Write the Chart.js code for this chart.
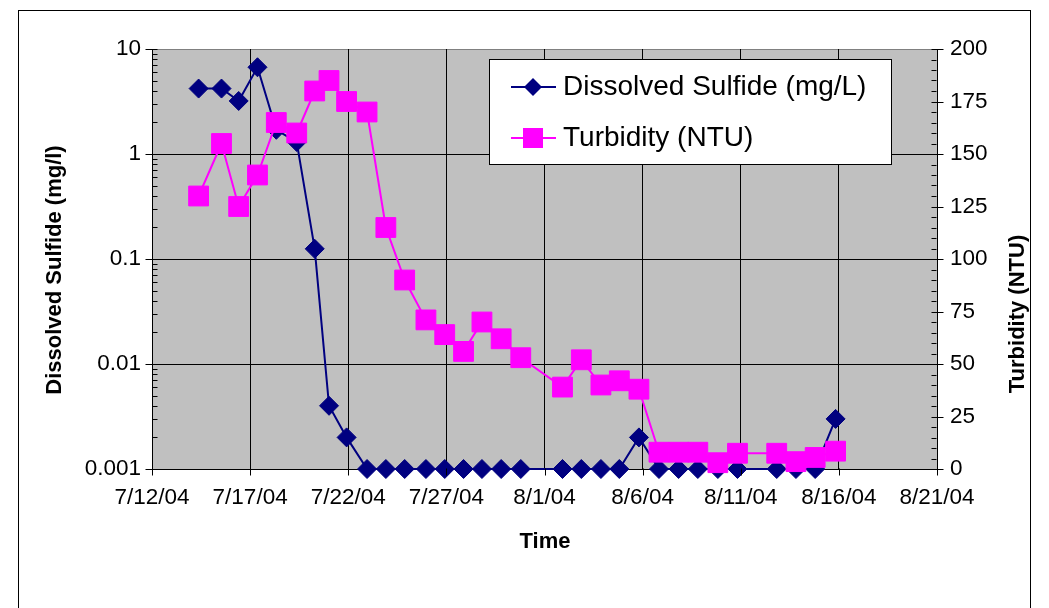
<!DOCTYPE html>
<html>
<head>
<meta charset="utf-8">
<title>Dissolved Sulfide and Turbidity</title>
<script src="https://cdn.jsdelivr.net/npm/chart.js@4.4.1/dist/chart.umd.min.js"></script>
<style>
  html, body { margin: 0; padding: 0; background: #ffffff; }
  #wrap { width: 1049px; height: 608px; position: relative; }
</style>
</head>
<body>
<div id="wrap"><canvas id="chart"></canvas></div>
<script>
// Sampling times (local date + time of each grab sample)
const sampleTimes = [
  '2004-07-14 09:00', '2004-07-15 13:00', '2004-07-16 10:00', '2004-07-17 09:00',
  '2004-07-18 08:00', '2004-07-19 09:00', '2004-07-20 07:00', '2004-07-21 00:30',
  '2004-07-21 22:00', '2004-07-22 23:00', '2004-07-23 22:00', '2004-07-24 21:00',
  '2004-07-25 23:00', '2004-07-26 22:00', '2004-07-27 21:00', '2004-07-28 19:30',
  '2004-07-29 19:00', '2004-07-30 19:00', '2004-08-01 22:00', '2004-08-02 21:00',
  '2004-08-03 21:00', '2004-08-04 19:30', '2004-08-05 19:30', '2004-08-06 20:00',
  '2004-08-07 20:00', '2004-08-08 19:30', '2004-08-09 20:00', '2004-08-10 20:00',
  '2004-08-12 20:00', '2004-08-13 19:30', '2004-08-14 19:00', '2004-08-15 20:00'
];

// Dissolved sulfide, mg/L (0.001 = detection limit)
const sulfideMgL = [
  4.2, 4.2, 3.2, 6.7, 1.7, 1.3, 0.125, 0.004,
  0.002, 0.001, 0.001, 0.001, 0.001, 0.001, 0.001, 0.001,
  0.001, 0.001, 0.001, 0.001, 0.001, 0.001, 0.002, 0.001,
  0.001, 0.001, 0.001, 0.001, 0.001, 0.001, 0.001, 0.003
];

// Turbidity, NTU
const turbidityNTU = [
  130, 155, 125, 140, 165, 160, 180, 185,
  175, 170, 115, 90, 71, 64, 56, 70,
  62, 53, 39, 52, 40, 42, 38, 8,
  8, 8, 3, 7.5, 7.5, 3.5, 5.5, 8.5
];

// Axis tick labels
const timeTickLabels = ['7/12/04', '7/17/04', '7/22/04', '7/27/04', '8/1/04', '8/6/04', '8/11/04', '8/16/04', '8/21/04'];
const sulfideTickLabels = ['0.001', '0.01', '0.1', '1', '10'];
const turbidityTickLabels = ['0', '25', '50', '75', '100', '125', '150', '175', '200'];

const AXIS_ORIGIN = Date.UTC(2004, 6, 12);   // 7/12/04, left end of the time axis
const DAY_MS = 86400000;

function toDays(stamp) {
  const [d, t] = stamp.split(' ');
  const [Y, M, D] = d.split('-').map(Number);
  const [h, m] = t.split(':').map(Number);
  return (Date.UTC(Y, M - 1, D, h, m) - AXIS_ORIGIN) / DAY_MS;
}

const days = sampleTimes.map(toDays);
const sulfidePoints = days.map((x, i) => ({ x, y: sulfideMgL[i] }));
const turbidityPoints = days.map((x, i) => ({ x, y: turbidityNTU[i] }));

const FONT = "'Liberation Sans', Arial, Helvetica, sans-serif";
const NAVY = '#000080';
const MAGENTA = '#FF00FF';
const TICK_SIZE = 22.5;

function isDecade(v) {
  const l = Math.log10(v);
  return Math.abs(l - Math.round(l)) < 1e-9;
}

// Plot background, outer frame, tick marks, axis titles and the boxed legend
const decorations = {
  id: 'decorations',
  beforeDraw(chart) {
    const { ctx, chartArea: a } = chart;
    ctx.save();
    ctx.fillStyle = '#ffffff';
    ctx.fillRect(0, 0, chart.width, chart.height);
    ctx.strokeStyle = '#000000';
    ctx.lineWidth = 1;
    ctx.strokeRect(18.5, 10.5, 1012, 700);
    ctx.fillStyle = '#C0C0C0';
    ctx.fillRect(a.left, a.top, a.right - a.left, a.bottom - a.top);
    ctx.strokeStyle = '#808080';
    ctx.beginPath();
    ctx.moveTo(a.left, Math.round(a.top) + 0.5);
    ctx.lineTo(a.right, Math.round(a.top) + 0.5);
    ctx.stroke();
    ctx.restore();
  },
  afterDraw(chart) {
    const { ctx, chartArea: a, scales } = chart;
    const yL = scales.y, yR = scales.y1, xS = scales.x;
    ctx.save();
    ctx.strokeStyle = '#000000';
    ctx.lineWidth = 1;
    ctx.beginPath();
    const L = Math.round(a.left) + 0.5;
    const R = Math.round(a.right) - 0.5;
    const B = Math.round(a.bottom) - 0.5;
    // left (log) axis: majors cross the axis, minors point inward
    for (let e = -3; e <= 1; e++) {
      const py = Math.round(yL.getPixelForValue(Math.pow(10, e))) + 0.5;
      ctx.moveTo(L - 7, py); ctx.lineTo(L + 5, py);
      if (e < 1) {
        for (let m = 2; m <= 9; m++) {
          const pm = Math.round(yL.getPixelForValue(m * Math.pow(10, e))) + 0.5;
          ctx.moveTo(L, pm); ctx.lineTo(L + 5, pm);
        }
      }
    }
    // right (linear) axis
    for (let v = 0; v <= 200; v += 5) {
      const py = Math.round(yR.getPixelForValue(v)) + 0.5;
      if (v % 25 === 0) { ctx.moveTo(R - 5, py); ctx.lineTo(R + 7, py); }
      else { ctx.moveTo(R - 5, py); ctx.lineTo(R, py); }
    }
    // time axis
    for (let d = 0; d <= 40; d += 5) {
      const px = Math.round(xS.getPixelForValue(d)) + 0.5;
      ctx.moveTo(px, B); ctx.lineTo(px, B + 7);
    }
    ctx.stroke();

    // axis titles
    ctx.fillStyle = '#000000';
    ctx.font = 'bold 22px ' + FONT;
    ctx.textAlign = 'center';
    ctx.textBaseline = 'middle';
    ctx.fillText('Time', 545, 542);
    ctx.save();
    ctx.translate(55, 270);
    ctx.rotate(-Math.PI / 2);
    ctx.fillText('Dissolved Sulfide (mg/l)', 0, 0);
    ctx.restore();
    ctx.save();
    ctx.translate(1018, 314);
    ctx.rotate(-Math.PI / 2);
    ctx.fillText('Turbidity (NTU)', 0, 0);
    ctx.restore();

    // legend box
    ctx.fillStyle = '#ffffff';
    ctx.fillRect(489, 59, 402, 105);
    ctx.strokeStyle = '#000000';
    ctx.strokeRect(489.5, 59.5, 402, 105);
    const entries = [
      { label: chart.data.datasets[0].label, color: NAVY, style: 'diamond', y: 87 },
      { label: chart.data.datasets[1].label, color: MAGENTA, style: 'square', y: 138 }
    ];
    entries.forEach(en => {
      ctx.strokeStyle = en.color;
      ctx.lineWidth = 2;
      ctx.beginPath();
      ctx.moveTo(511, en.y); ctx.lineTo(556, en.y);
      ctx.stroke();
      ctx.fillStyle = en.color;
      ctx.beginPath();
      if (en.style === 'diamond') {
        ctx.moveTo(533, en.y - 9); ctx.lineTo(542, en.y); ctx.lineTo(533, en.y + 9); ctx.lineTo(524, en.y);
        ctx.closePath();
      } else {
        ctx.rect(523, en.y - 10, 20, 20);
      }
      ctx.fill();
      ctx.fillStyle = '#000000';
      ctx.font = '28px ' + FONT;
      ctx.textAlign = 'left';
      ctx.textBaseline = 'middle';
      ctx.fillText(en.label, 563, en.y);
    });
    ctx.restore();
  }
};

new Chart(document.getElementById('chart'), {
  type: 'line',
  data: {
    datasets: [
      {
        label: 'Dissolved Sulfide (mg/L)',
        data: sulfidePoints,
        yAxisID: 'y',
        order: 2,
        borderColor: NAVY,
        backgroundColor: NAVY,
        borderWidth: 2,
        pointStyle: 'rectRot',
        pointRadius: 9.5,
        pointBorderWidth: 1,
        pointBackgroundColor: NAVY,
        pointBorderColor: NAVY,
        tension: 0,
        clip: false
      },
      {
        label: 'Turbidity (NTU)',
        data: turbidityPoints,
        yAxisID: 'y1',
        order: 1,
        borderColor: MAGENTA,
        backgroundColor: MAGENTA,
        borderWidth: 2,
        pointStyle: 'rect',
        pointRadius: 14,
        pointBorderWidth: 1,
        pointBackgroundColor: MAGENTA,
        pointBorderColor: MAGENTA,
        tension: 0,
        clip: false
      }
    ]
  },
  options: {
    responsive: true,
    maintainAspectRatio: false,
    animation: false,
    events: [],
    layout: { padding: { top: 49, left: 0, right: 0, bottom: 0 } },
    plugins: {
      legend: { display: false },
      tooltip: { enabled: false },
      title: { display: false }
    },
    scales: {
      x: {
        type: 'linear',
        min: 0,
        max: 40,
        afterFit(scale) { scale.height = 139; },
        ticks: {
          stepSize: 5,
          autoSkip: false,
          maxRotation: 0,
          padding: 15,
          color: '#000000',
          font: { family: FONT, size: TICK_SIZE },
          callback: (v) => timeTickLabels[Math.round(v / 5)]
        },
        grid: { color: '#000000', lineWidth: 1, drawTicks: false },
        border: { color: '#000000', width: 1 }
      },
      y: {
        type: 'logarithmic',
        position: 'left',
        min: 0.001,
        max: 10,
        afterFit(scale) { scale.width = 152; },
        ticks: {
          autoSkip: false,
          padding: 11,
          color: '#000000',
          font: { family: FONT, size: TICK_SIZE },
          callback: (v) => isDecade(v) ? sulfideTickLabels[Math.round(Math.log10(v)) + 3] : ''
        },
        grid: {
          drawTicks: false,
          lineWidth: 1,
          color: (c) => (c.tick && isDecade(c.tick.value) && c.tick.value < 5) ? '#000000' : 'rgba(0,0,0,0)'
        },
        border: { color: '#000000', width: 1 }
      },
      y1: {
        type: 'linear',
        position: 'right',
        min: 0,
        max: 200,
        afterFit(scale) { scale.width = 112; },
        ticks: {
          stepSize: 25,
          autoSkip: false,
          padding: 13,
          color: '#000000',
          font: { family: FONT, size: TICK_SIZE },
          callback: (v) => turbidityTickLabels[Math.round(v / 25)]
        },
        grid: { drawOnChartArea: false, drawTicks: false },
        border: { color: '#000000', width: 1 }
      }
    }
  },
  plugins: [decorations]
});
</script>
</body>
</html>
